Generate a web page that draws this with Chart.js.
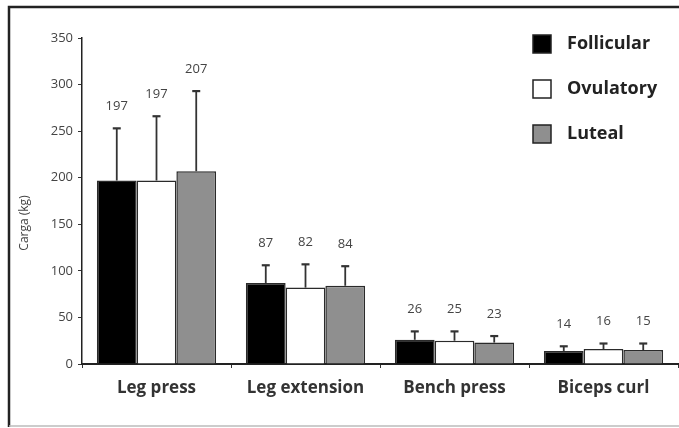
<!DOCTYPE html>
<html>
<head>
<meta charset="utf-8">
<script src="https://cdn.jsdelivr.net/npm/chart.js@4.4.1/dist/chart.umd.min.js"></script>
<style>
  body { margin: 0; background: #fff; }
  #wrap { position: relative; width: 679px; height: 428px; }
</style>
</head>
<body>
<div id="wrap"><canvas id="chart" width="679" height="428"></canvas></div>
<script>
// exercise categories and phase series (kg), means and SD
const exercises = ['Leg press', 'Leg extension', 'Bench press', 'Biceps curl'];
const phases = ['Follicular', 'Ovulatory', 'Luteal'];
const follicular = [197, 87, 26, 14];
const ovulatory = [197, 82, 25, 16];
const luteal = [207, 84, 23, 15];
const follicularSD = [56, 19, 9, 5];
const ovulatorySD = [69, 25, 10, 6];
const lutealSD = [86, 21, 7, 7];
const yTicks = [0, 50, 100, 150, 200, 250, 300, 350];

const fills = ['#000000', '#ffffff', '#8f8f8f'];
const FONT = '"Open Sans", "DejaVu Sans", sans-serif';

// draws the frame, the upper error bars, value labels, y title and legend
const extrasPlugin = {
    id: 'extras',
    beforeDraw(chart) {
        const ctx = chart.ctx;
        ctx.save();
        ctx.fillStyle = '#fff';
        ctx.fillRect(0, 0, chart.width, chart.height);
        // frame around the figure
        ctx.strokeStyle = '#222';
        ctx.lineWidth = 2.5;
        ctx.beginPath();
        ctx.moveTo(9, 427);
        ctx.lineTo(9, 7);
        ctx.lineTo(chart.width, 7);
        ctx.stroke();
        ctx.strokeStyle = '#bbb';
        ctx.lineWidth = 1.5;
        ctx.beginPath();
        ctx.moveTo(9, 426);
        ctx.lineTo(chart.width, 426);
        ctx.stroke();
        ctx.restore();
    },
    afterDatasetsDraw(chart) {
        const ctx = chart.ctx;
        const y = chart.scales.y;
        ctx.save();
        chart.data.datasets.forEach((ds, di) => {
            const meta = chart.getDatasetMeta(di);
            meta.data.forEach((bar, i) => {
                const top = y.getPixelForValue(ds.data[i] + ds.sd[i]);
                ctx.strokeStyle = '#333';
                ctx.lineWidth = 1.8;
                ctx.beginPath();
                ctx.moveTo(bar.x, bar.y);
                ctx.lineTo(bar.x, top);
                ctx.stroke();
                ctx.lineWidth = 2.2;
                ctx.beginPath();
                ctx.moveTo(bar.x - 4, top);
                ctx.lineTo(bar.x + 4, top);
                ctx.stroke();
                // value label
                ctx.fillStyle = '#444';
                ctx.font = '13px ' + FONT;
                ctx.textAlign = 'center';
                ctx.textBaseline = 'middle';
                ctx.fillText(String(ds.data[i]), bar.x, top - 22);
            });
        });

        // y axis title
        ctx.save();
        ctx.translate(25, 223);
        ctx.rotate(-Math.PI / 2);
        ctx.fillStyle = '#444';
        ctx.font = '12px ' + FONT;
        ctx.textAlign = 'center';
        ctx.textBaseline = 'middle';
        ctx.fillText('Carga (kg)', 0, 0);
        ctx.restore();

        // legend in the top right corner
        chart.data.datasets.forEach((ds, di) => {
            const cy = 44 + di * 45;
            ctx.fillStyle = ds.backgroundColor;
            ctx.fillRect(533, cy - 9, 18, 18);
            ctx.strokeStyle = '#222';
            ctx.lineWidth = 1.5;
            ctx.strokeRect(533, cy - 9, 18, 18);
            ctx.fillStyle = '#222';
            ctx.font = 'bold 18px ' + FONT;
            ctx.textAlign = 'left';
            ctx.textBaseline = 'middle';
            ctx.fillText(ds.label, 567, cy);
        });
        ctx.restore();
    }
};

const ctx = document.getElementById('chart').getContext('2d');
window.myChart = new Chart(ctx, {
    type: 'bar',
    data: {
        labels: exercises,
        datasets: [
            { label: phases[0], data: follicular, sd: follicularSD, backgroundColor: fills[0] },
            { label: phases[1], data: ovulatory, sd: ovulatorySD, backgroundColor: fills[1] },
            { label: phases[2], data: luteal, sd: lutealSD, backgroundColor: fills[2] }
        ]
    },
    options: {
        responsive: false,
        animation: false,
        devicePixelRatio: 1,
        layout: { padding: { top: 38, right: 1, left: 0, bottom: 0 } },
        datasets: {
            bar: {
                categoryPercentage: 0.8,
                barPercentage: 1.0,
                borderColor: '#2a2a2a',
                borderWidth: 1.5,
                borderSkipped: 'bottom'
            }
        },
        plugins: {
            legend: { display: false },
            tooltip: { enabled: false }
        },
        scales: {
            x: {
                afterFit(scale) { scale.height = 64; },
                grid: {
                    offset: true,
                    drawOnChartArea: false,
                    tickLength: 4,
                    color: '#333',
                    lineWidth: 1
                },
                border: { color: '#222', width: 2 },
                ticks: {
                    color: '#333',
                    padding: 10,
                    font: { family: FONT, size: 17, weight: 'bold' }
                }
            },
            y: {
                min: 0,
                max: 350,
                afterFit(scale) { scale.width = 82; },
                afterBuildTicks(scale) { scale.ticks = yTicks.map(v => ({ value: v })); },
                grid: {
                    drawOnChartArea: false,
                    tickLength: 4,
                    color: '#333'
                },
                border: { color: '#222', width: 1.5 },
                ticks: {
                    color: '#444',
                    padding: 5,
                    font: { family: FONT, size: 13 }
                }
            }
        }
    },
    plugins: [extrasPlugin]
});
</script>
</body>
</html>
